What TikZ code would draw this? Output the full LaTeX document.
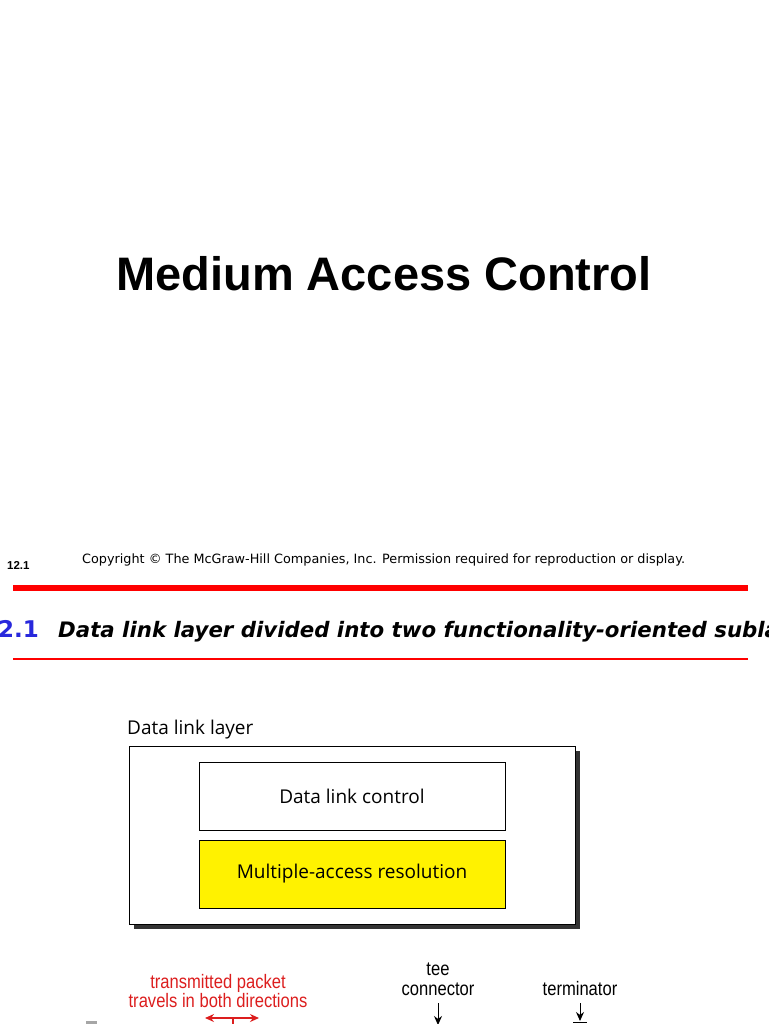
\documentclass[tikz,border=0pt]{standalone}
\usepackage{fontspec}
\setmainfont{Liberation Sans}
\newfontfamily\dvs{DejaVu Sans}
\newfontfamily\hum{Open Sans}
\usetikzlibrary{arrows.meta}
\definecolor{headblue}{RGB}{40,40,220}
\definecolor{pktred}{RGB}{220,30,30}
\tikzset{
  txt/.style={inner sep=0pt, anchor=base},
  layerbox/.style={draw=black, line width=0.8pt, minimum width=306pt, minimum height=68pt, inner sep=0pt, font=\hum\fontsize{19}{19}\selectfont},
  lbl/.style={inner sep=0pt, anchor=base, xscale=0.85, font=\fontsize{19.5}{20}\selectfont},
  darr/.style={-{Stealth[length=9pt,width=8pt]}, line width=1pt},
}
\begin{document}
\begin{tikzpicture}[x=1pt,y=-1pt]
\useasboundingbox (0,0) rectangle (768,1024);
\clip (0,0) rectangle (768,1024);
% title
\node[txt, font=\bfseries\fontsize{47}{47}\selectfont] (title) at (384,290) {Medium Access Control};
% footer
\node[txt, anchor=base west, font=\bfseries\fontsize{11.5}{11.5}\selectfont] (pg) at (7,569) {12.1};
\node[txt, anchor=base west, font=\dvs\fontsize{12.8}{12.8}\selectfont] (copy) at (82,563) {Copyright \textcopyright{} The McGraw-Hill Companies, Inc. Permission required for reproduction or display.};
\fill[red] (13,585) rectangle (748,591);
% heading
\node[txt, anchor=base east, font=\dvs\bfseries\fontsize{23}{23}\selectfont, text=headblue] (fignum) at (39,637) {12.1};
\node[txt, anchor=base west, font=\dvs\bfseries\itshape\fontsize{21.3}{22}\selectfont] (caption) at (58,637) {Data link layer divided into two functionality-oriented sublayers};
\draw[red, line width=1.1pt] (13,659) -- (748,659);
% diagram
\node[txt, anchor=base west, font=\hum\fontsize{19}{19}\selectfont] (dll) at (127,734) {Data link layer};
\fill[black!80] (134,751) rectangle (580,929);
\node[draw=black, fill=white, line width=0.8pt, minimum width=446pt, minimum height=178pt, inner sep=0pt] (outer) at (352,835) {};
\node[layerbox, fill=white] (dlc) at (352,796) {Data link control};
\node[layerbox, fill=yellow] (mar) at (352,874) {Multiple-access resolution};
% bottom labels
\node[lbl, text=pktred] (tp1) at (218,988) {transmitted packet};
\node[lbl, text=pktred] (tp2) at (218,1007) {travels in both directions};
\coordinate (pl) at (205,1018);
\coordinate (pr) at (259,1018);
\coordinate (pm) at (233,1018);
\coordinate (pb) at (233,1026);
\draw[pktred, line width=1.2pt, {Stealth[length=9pt,width=8pt]}-{Stealth[length=9pt,width=8pt]}] (pl) -- (pr);
\draw[pktred, line width=1.2pt] (pm) -- (pb);
\node[lbl] (tee1) at (438,975) {tee};
\node[lbl] (tee2) at (438,995) {connector};
\coordinate (teet) at (438,1025);
\draw[darr] (438,1003) -- (teet);
\node[lbl] (term) at (580,995) {terminator};
\coordinate (termt) at (580,1021);
\draw[darr] (580,1003) -- (termt);
\draw[line width=1pt] (573,1022) -- (587,1022);
\fill[black!35] (86,1021) rectangle (97,1024);
\end{tikzpicture}
\end{document}
